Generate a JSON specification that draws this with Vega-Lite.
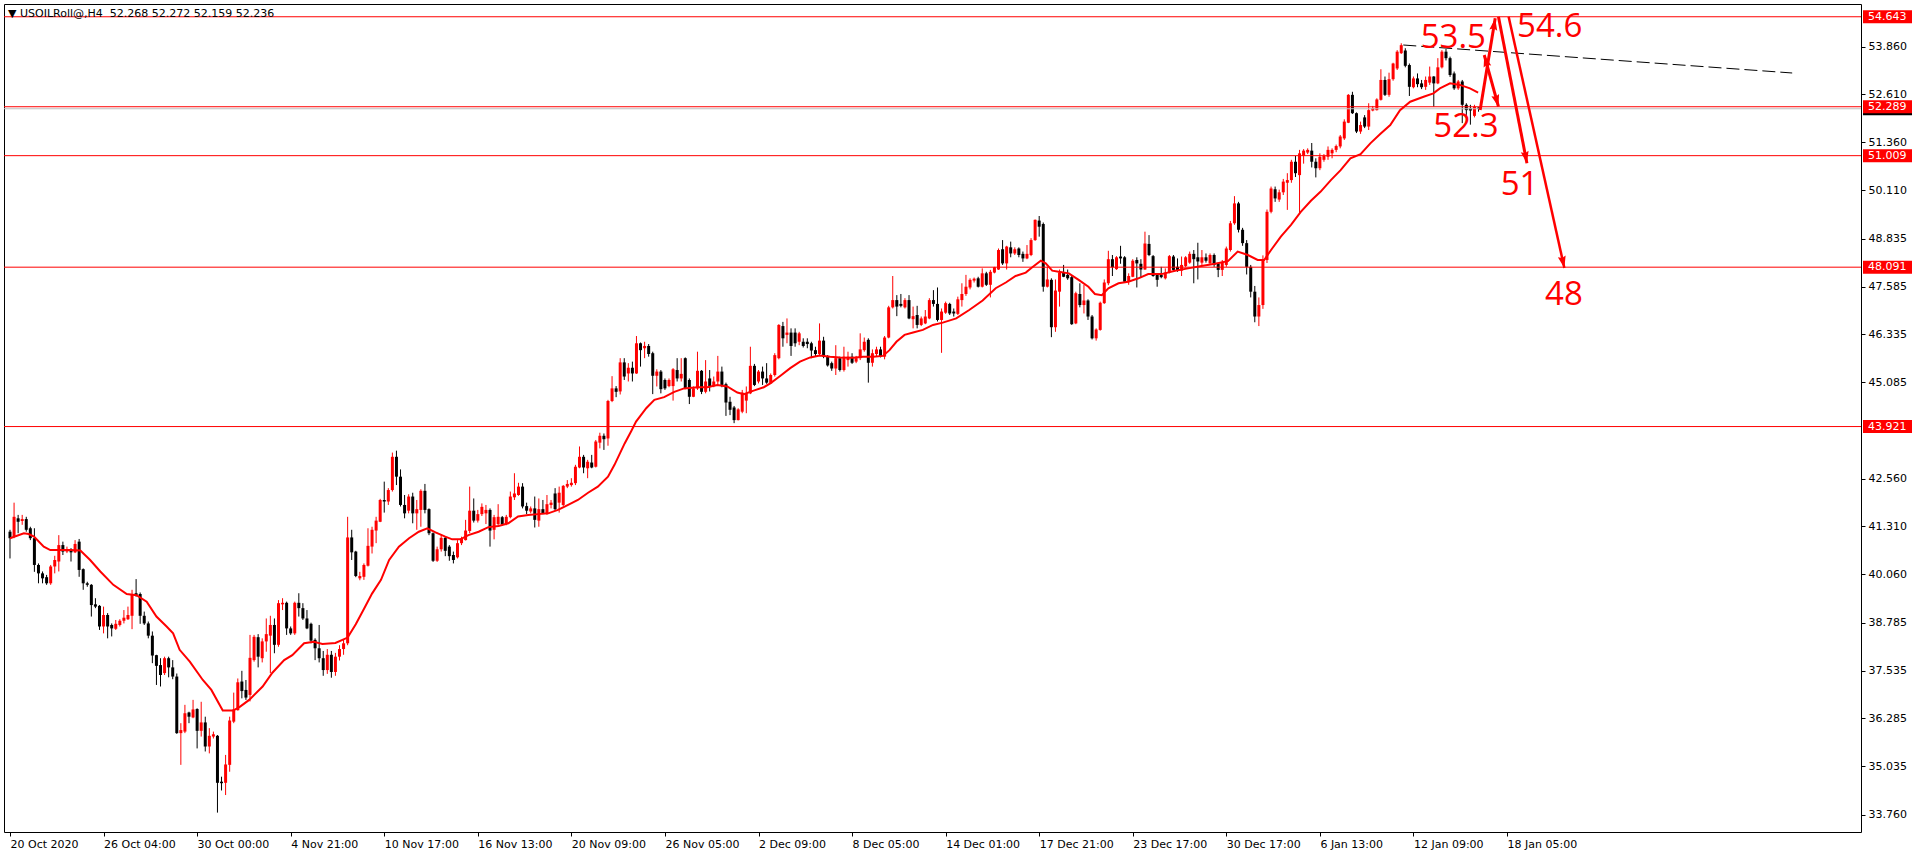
{
"$schema": "https://vega.github.io/schema/vega-lite/v6.json",
"width": 1857,
"height": 828,
"autosize": {"type": "none"},
"padding": {"left": 4, "top": 4, "right": 59, "bottom": 26},
"background": "#ffffff",
"config": {"view": {"stroke": "#000000", "strokeWidth": 1}},
"title": {"text": "▼ USOILRoll@,H4\u00a0\u00a052.268 52.272 52.159 52.236", "anchor": "start", "frame": "group", "orient": "top", "offset": -21, "baseline": "middle", "dx": 4, "font": "DejaVu Sans", "fontSize": 11, "fontWeight": "normal", "color": "#000000"},
"data": {"values": "i,o,h,l,c\n0,41.17,41.22,40.47,41.00\n1,41.04,41.93,41.00,41.56\n2,41.52,41.61,41.13,41.43\n3,41.45,41.61,41.35,41.50\n4,41.50,41.56,41.17,41.22\n5,41.26,41.30,40.95,41.00\n6,41.00,41.26,40.12,40.30\n7,40.30,40.34,39.82,40.08\n8,40.08,40.13,39.82,39.95\n9,39.98,40.04,39.78,39.82\n10,39.82,40.30,39.78,40.26\n11,40.26,40.54,40.08,40.43\n12,40.39,41.08,40.13,40.82\n13,40.82,40.91,40.56,40.65\n14,40.65,40.78,40.61,40.70\n15,40.70,40.74,40.39,40.63\n16,40.63,40.95,40.61,40.85\n17,40.91,40.98,39.99,40.17\n18,40.19,40.21,39.65,39.82\n19,39.82,39.86,39.73,39.78\n20,39.78,39.80,38.95,39.25\n21,39.27,39.43,39.17,39.21\n22,39.23,39.25,38.60,38.69\n23,38.69,39.21,38.51,38.99\n24,38.99,39.04,38.38,38.69\n25,38.73,38.77,38.43,38.64\n26,38.63,38.86,38.60,38.76\n27,38.73,38.88,38.69,38.84\n28,38.84,39.12,38.77,38.92\n29,38.88,39.21,38.86,38.99\n30,38.97,39.65,38.62,39.54\n31,39.56,39.93,39.47,39.51\n32,39.54,39.58,38.76,38.97\n33,38.97,39.08,38.73,38.77\n34,38.77,38.82,38.38,38.45\n35,38.45,38.56,37.73,37.93\n36,37.94,37.95,37.16,37.66\n37,37.68,37.86,37.12,37.42\n38,37.47,37.90,37.42,37.86\n39,37.86,37.90,37.36,37.62\n40,37.62,37.81,37.31,37.38\n41,37.38,37.46,35.88,35.90\n42,35.90,36.16,35.07,35.98\n43,35.94,36.64,35.90,36.42\n44,36.44,36.46,36.16,36.33\n45,36.31,36.77,36.29,36.52\n46,36.53,36.55,35.50,35.96\n47,35.96,36.72,35.81,36.18\n48,36.18,36.33,35.42,35.55\n49,35.55,36.03,35.37,35.83\n50,35.81,35.94,35.76,35.87\n51,35.83,35.85,33.82,34.60\n52,34.63,34.76,34.40,34.59\n53,34.60,35.33,34.28,35.08\n54,35.07,36.33,34.89,36.23\n55,36.20,36.96,36.16,36.52\n56,36.50,37.33,36.49,37.23\n57,37.25,37.53,36.81,37.00\n58,37.03,37.29,36.77,36.83\n59,36.90,38.47,36.73,37.87\n60,37.81,38.47,37.77,38.42\n61,38.41,38.49,37.62,37.90\n62,37.86,38.38,37.75,38.30\n63,38.30,38.90,38.03,38.49\n64,38.45,38.97,37.47,38.73\n65,38.73,38.90,37.99,38.21\n66,38.21,39.38,38.16,39.30\n67,39.27,39.43,39.12,39.31\n68,39.31,39.34,38.47,38.64\n69,38.64,38.69,38.47,38.51\n70,38.51,39.34,38.47,39.31\n71,39.31,39.56,38.95,39.17\n72,39.17,39.30,38.86,38.90\n73,38.90,39.12,38.62,38.64\n74,38.76,38.79,38.25,38.32\n75,38.34,38.38,37.81,38.12\n76,38.12,38.73,37.75,37.86\n77,37.86,38.05,37.40,37.55\n78,37.55,38.10,37.45,37.95\n79,37.95,38.05,37.35,37.50\n80,37.50,38.00,37.40,37.90\n81,37.90,38.20,37.80,38.10\n82,38.10,38.35,37.95,38.25\n83,38.25,41.56,38.20,41.02\n84,41.02,41.22,40.43,40.63\n85,40.65,40.67,39.98,40.01\n86,39.95,40.12,39.90,40.01\n87,39.99,40.34,39.91,40.30\n88,40.28,41.26,40.26,40.80\n89,40.78,41.30,40.60,41.22\n90,41.20,41.56,40.87,41.46\n91,41.43,42.03,41.42,42.00\n92,42.00,42.48,41.67,41.96\n93,41.96,42.31,41.87,42.26\n94,42.26,43.24,42.22,43.13\n95,43.13,43.29,42.39,42.61\n96,42.61,42.80,41.83,41.87\n97,41.87,42.13,41.52,41.65\n98,41.72,42.15,41.65,42.09\n99,42.09,42.19,41.39,41.65\n100,41.65,42.00,41.22,41.76\n101,41.74,42.28,41.30,42.24\n102,42.24,42.42,41.65,41.74\n103,41.76,41.78,41.08,41.13\n104,41.13,41.15,40.38,40.41\n105,40.41,40.78,40.38,40.71\n106,40.71,41.08,40.65,41.01\n107,41.01,41.04,40.53,40.67\n108,40.78,40.82,40.41,40.53\n109,40.56,40.65,40.34,40.43\n110,40.50,40.95,40.47,40.87\n111,40.87,41.04,40.82,40.99\n112,40.95,41.48,40.94,41.20\n113,41.19,42.35,41.13,41.72\n114,41.72,42.04,41.41,41.46\n115,41.46,41.74,41.41,41.63\n116,41.63,41.91,41.58,41.82\n117,41.65,41.87,41.37,41.74\n118,41.74,41.78,40.78,41.20\n119,41.22,41.61,40.97,41.55\n120,41.37,41.89,41.30,41.56\n121,41.55,41.58,41.32,41.37\n122,41.37,41.61,41.34,41.56\n123,41.55,42.22,41.52,42.09\n124,42.07,42.70,42.00,42.17\n125,42.13,42.45,42.11,42.35\n126,42.35,42.44,41.78,41.83\n127,41.84,41.93,41.63,41.72\n128,41.70,41.83,41.65,41.78\n129,41.78,42.09,41.28,41.48\n130,41.46,42.04,41.30,41.76\n131,41.76,42.00,41.63,41.65\n132,41.65,42.13,41.61,41.89\n133,41.87,42.00,41.78,41.93\n134,42.17,42.31,41.72,41.76\n135,41.93,42.35,41.67,42.19\n136,41.87,42.39,41.84,42.37\n137,42.35,42.52,42.31,42.42\n138,42.39,42.57,42.35,42.45\n139,42.44,42.92,42.39,42.87\n140,42.85,43.40,42.83,43.13\n141,43.13,43.18,42.70,42.85\n142,42.83,43.05,42.57,43.00\n143,42.98,43.18,42.83,42.85\n144,42.87,43.57,42.85,43.53\n145,43.50,43.76,43.35,43.68\n146,43.68,43.74,43.31,43.59\n147,43.61,44.62,43.42,44.59\n148,44.59,45.24,44.56,44.92\n149,44.92,44.98,44.69,44.83\n150,44.84,45.71,44.76,45.60\n151,45.60,45.71,45.14,45.23\n152,45.31,45.58,45.10,45.46\n153,45.46,45.62,45.10,45.31\n154,45.31,46.29,45.30,46.10\n155,46.10,46.12,45.49,45.92\n156,45.97,46.14,45.71,46.03\n157,46.03,46.08,45.75,45.82\n158,45.84,45.88,44.77,45.25\n159,45.25,45.42,44.97,45.36\n160,45.36,45.40,44.79,44.90\n161,45.14,45.18,44.88,44.92\n162,44.98,45.18,44.95,45.14\n163,44.98,45.45,44.60,45.42\n164,45.40,45.71,45.10,45.18\n165,45.18,45.71,45.10,45.30\n166,45.71,45.73,44.90,44.92\n167,45.14,45.18,44.51,44.70\n168,44.70,44.97,44.69,44.92\n169,44.92,45.88,44.88,45.38\n170,45.38,45.40,44.77,44.83\n171,44.83,45.66,44.79,45.10\n172,45.18,45.40,44.84,44.98\n173,44.98,45.23,44.95,45.10\n174,45.10,45.77,45.01,45.36\n175,45.36,45.49,44.95,45.01\n176,45.03,45.07,44.20,44.55\n177,44.57,44.70,44.22,44.36\n178,44.42,44.46,44.01,44.09\n179,44.09,44.40,44.08,44.37\n180,44.31,44.88,44.27,44.81\n181,44.60,44.97,44.27,44.79\n182,44.79,46.01,44.77,45.51\n183,45.51,45.56,44.98,45.01\n184,45.10,45.40,45.05,45.36\n185,45.36,45.49,45.01,45.18\n186,45.18,45.58,45.04,45.07\n187,45.05,45.31,45.04,45.27\n188,45.27,45.84,45.23,45.79\n189,45.71,46.60,45.68,46.58\n190,46.55,46.66,46.01,46.23\n191,46.32,46.75,46.10,46.38\n192,46.38,46.49,45.77,46.03\n193,46.38,46.49,46.01,46.10\n194,46.14,46.40,46.05,46.36\n195,46.14,46.23,45.99,46.03\n196,46.14,46.23,45.97,46.08\n197,46.10,46.14,45.71,45.91\n198,45.92,46.01,45.75,45.82\n199,45.82,46.62,45.79,46.17\n200,46.17,46.27,45.71,45.75\n201,45.75,45.79,45.49,45.52\n202,45.58,45.62,45.38,45.44\n203,45.44,46.05,45.27,45.71\n204,45.71,45.75,45.36,45.40\n205,45.40,46.01,45.36,45.75\n206,45.66,45.88,45.49,45.75\n207,45.75,45.84,45.56,45.59\n208,45.62,45.77,45.58,45.71\n209,45.71,46.36,45.66,45.94\n210,45.92,46.25,45.88,46.14\n211,46.19,46.23,45.07,45.59\n212,45.59,45.94,45.49,45.84\n213,45.82,46.01,45.75,45.94\n214,45.94,46.01,45.73,45.75\n215,45.75,46.29,45.68,46.25\n216,46.25,47.08,46.23,47.04\n217,47.04,47.86,47.01,47.23\n218,47.23,47.36,46.81,47.06\n219,47.13,47.39,47.04,47.08\n220,47.04,47.28,47.01,47.23\n221,47.23,47.36,46.73,46.75\n222,46.73,47.06,46.49,46.81\n223,46.84,47.08,46.49,46.58\n224,46.58,46.80,46.55,46.75\n225,46.62,46.97,46.60,46.80\n226,46.75,47.28,46.73,47.23\n227,47.23,47.49,47.06,47.13\n228,47.13,47.56,46.67,46.71\n229,46.71,47.01,45.85,46.93\n230,46.90,47.19,46.87,47.15\n231,47.13,47.16,46.84,46.88\n232,46.93,47.01,46.80,46.88\n233,46.87,47.32,46.84,47.25\n234,47.23,47.67,47.06,47.39\n235,47.39,47.89,47.34,47.58\n236,47.56,47.80,47.51,47.76\n237,47.74,47.82,47.69,47.79\n238,47.80,47.84,47.56,47.58\n239,47.58,48.06,47.56,47.93\n240,47.93,47.97,47.60,47.63\n241,47.63,48.02,47.30,47.97\n242,47.95,48.10,47.93,48.09\n243,48.03,48.58,48.02,48.54\n244,48.56,48.80,48.15,48.19\n245,48.19,48.65,48.03,48.63\n246,48.61,48.76,48.35,48.45\n247,48.45,48.61,48.41,48.56\n248,48.58,48.61,48.35,48.41\n249,48.44,48.50,48.23,48.32\n250,48.32,48.67,48.30,48.44\n251,48.41,48.85,48.38,48.80\n252,48.80,49.34,48.78,49.33\n253,49.31,49.43,48.89,49.15\n254,49.22,49.26,47.45,47.58\n255,47.58,48.10,47.56,47.77\n256,47.76,47.80,46.26,46.52\n257,46.52,47.77,46.40,47.48\n258,47.45,48.03,47.06,47.95\n259,47.95,48.15,47.83,47.84\n260,47.89,48.03,47.76,47.80\n261,47.83,47.86,46.58,46.60\n262,46.62,47.45,46.60,47.41\n263,47.39,47.67,47.04,47.10\n264,47.10,47.63,46.88,47.22\n265,47.22,47.25,46.71,46.80\n266,46.80,46.84,46.20,46.23\n267,46.23,46.49,46.17,46.46\n268,46.45,47.19,46.43,47.16\n269,47.15,47.77,47.13,47.69\n270,47.67,48.52,47.62,48.30\n271,48.30,48.41,47.86,48.09\n272,48.04,48.38,48.02,48.35\n273,48.37,48.65,48.18,48.32\n274,48.35,48.38,47.69,47.71\n275,47.71,47.93,47.63,47.86\n276,47.84,48.30,47.83,48.26\n277,48.28,48.35,47.56,48.19\n278,48.18,48.30,47.83,48.03\n279,48.03,49.02,48.02,48.71\n280,48.70,48.93,48.38,48.41\n281,48.38,48.41,47.84,47.86\n282,47.89,47.93,47.58,47.76\n283,47.89,48.10,47.80,47.83\n284,47.80,48.06,47.77,47.95\n285,47.95,48.41,47.93,48.38\n286,48.37,48.41,48.00,48.02\n287,48.10,48.32,47.97,48.00\n288,48.00,48.37,47.86,48.15\n289,48.12,48.38,48.09,48.35\n290,48.21,48.50,48.18,48.44\n291,48.44,48.54,47.67,48.30\n292,48.35,48.73,47.77,48.24\n293,48.21,48.54,48.15,48.35\n294,48.35,48.45,48.21,48.26\n295,48.19,48.45,48.18,48.41\n296,48.41,48.45,48.10,48.15\n297,48.19,48.21,47.83,48.02\n298,48.02,48.28,47.86,48.23\n299,48.15,48.63,48.10,48.58\n300,48.54,49.30,48.50,49.24\n301,49.24,49.95,49.20,49.76\n302,49.76,49.80,49.00,49.07\n303,49.07,49.12,48.65,48.72\n304,48.72,48.80,47.90,48.10\n305,48.10,48.15,47.30,47.45\n306,47.45,47.60,46.65,46.80\n307,46.80,47.30,46.55,47.10\n308,47.10,48.40,47.00,48.28\n309,48.28,49.60,48.20,49.54\n310,49.54,50.20,49.50,50.15\n311,50.13,50.20,49.80,49.89\n312,49.86,50.12,49.80,50.05\n313,50.05,50.40,49.98,50.33\n314,50.30,50.55,49.59,50.37\n315,50.37,50.90,50.30,50.85\n316,50.85,51.00,50.45,50.55\n317,50.50,51.16,49.50,51.07\n318,51.00,51.18,50.80,51.14\n319,51.09,51.20,51.05,51.16\n320,51.14,51.34,50.70,50.85\n321,50.85,50.94,50.44,50.68\n322,50.68,51.07,50.63,50.98\n323,50.90,51.05,50.85,51.00\n324,50.98,51.25,50.90,51.16\n325,51.07,51.20,50.94,51.16\n326,51.16,51.30,51.10,51.26\n327,51.25,51.55,51.20,51.51\n328,51.46,51.96,51.42,51.90\n329,51.87,52.62,51.86,52.60\n330,52.60,52.68,52.10,52.12\n331,52.12,52.14,51.60,51.64\n332,51.64,51.90,51.58,51.81\n333,52.01,52.07,51.73,51.77\n334,51.77,52.38,51.68,52.20\n335,52.19,52.31,52.17,52.25\n336,52.20,52.51,52.19,52.48\n337,52.47,53.27,52.45,52.99\n338,52.99,53.08,52.57,52.60\n339,52.60,53.18,52.55,53.01\n340,53.01,53.44,52.97,53.42\n341,53.29,53.77,53.25,53.73\n342,53.69,53.95,53.67,53.90\n343,53.76,53.82,53.32,53.36\n344,53.38,53.42,52.57,52.81\n345,52.80,53.08,52.77,53.03\n346,53.03,53.16,52.80,52.88\n347,52.90,52.99,52.75,52.80\n348,52.81,53.08,52.73,52.99\n349,52.92,53.34,52.86,53.08\n350,53.08,53.09,52.29,52.90\n351,52.90,53.56,52.88,53.32\n352,53.32,53.77,53.29,53.73\n353,53.73,53.80,53.50,53.56\n354,53.56,53.60,53.07,53.12\n355,53.16,53.21,52.73,52.77\n356,52.77,52.99,52.73,52.95\n357,52.95,52.99,51.86,52.34\n358,52.34,52.38,52.00,52.20\n359,52.25,52.34,51.82,52.19\n360,52.05,52.34,52.01,52.29\n361,52.268,52.272,52.159,52.236", "format": {"type": "csv", "parse": {"i": "number", "o": "number", "h": "number", "l": "number", "c": "number"}}},
"layer": [
{
"mark": {"type": "rule", "strokeWidth": 1},
"encoding": {
"x": {"field": "i", "type": "quantitative", "title": null, "scale": {"domain": [-0.2445, 453.79], "nice": false, "zero": false},
"axis": {"values": [0,23,46,69,92,115,138,161,184,207,230,253,276,299,322,345,368], "labelExpr": "['20 Oct 2020','26 Oct 04:00','30 Oct 00:00','4 Nov 21:00','10 Nov 17:00','16 Nov 13:00','20 Nov 09:00','26 Nov 05:00','2 Dec 09:00','8 Dec 05:00','14 Dec 01:00','17 Dec 21:00','23 Dec 17:00','30 Dec 17:00','6 Jan 13:00','12 Jan 09:00','18 Jan 05:00'][round(datum.value/23)]", "orient": "bottom", "domain": false, "grid": false, "ticks": true, "tickSize": 4, "tickColor": "#000000", "tickWidth": 1, "labelAlign": "left", "labelBaseline": "top", "labelPadding": 2, "labelFont": "DejaVu Sans", "labelFontSize": 11, "labelColor": "#000000", "labelOverlap": false, "labelFlush": false, "title": null}},
"y": {"field": "l", "type": "quantitative", "title": null, "scale": {"domain": [33.313, 54.977], "nice": false, "zero": false},
"axis": {"orient": "right", "values": [33.760,35.035,36.285,37.535,38.785,40.060,41.310,42.560,45.085,46.335,47.585,48.835,50.110,51.360,52.610,53.860], "format": ".3f", "domain": false, "grid": false, "ticks": true, "tickSize": 4, "tickColor": "#000000", "labelPadding": 3, "labelFont": "DejaVu Sans", "labelFontSize": 11, "labelColor": "#000000", "labelBaseline": "middle", "labelAlign": "left", "labelOverlap": false, "labelFlush": false, "title": null}},
"y2": {"field": "h"},
"color": {"condition": {"test": "datum.c >= datum.o", "value": "#ff0000"}, "value": "#000000"}
}
},
{
"mark": {"type": "bar", "width": 3},
"encoding": {
"x": {"field": "i", "type": "quantitative", "title": null},
"y": {"field": "o", "type": "quantitative", "title": null},
"y2": {"field": "c"},
"color": {"condition": {"test": "datum.c >= datum.o", "value": "#ff0000"}, "value": "#000000"}
}
},
{
"data": {"values": [{"v": 54.643}, {"v": 52.289}, {"v": 51.009}, {"v": 48.091}, {"v": 43.921}]},
"mark": {"type": "rule", "color": "#ff0000", "strokeWidth": 1},
"encoding": {"y": {"field": "v", "type": "quantitative", "title": null}}
},
{
"data": {"values": [{"v": 52.236}]},
"mark": {"type": "rule", "color": "#c0c0c0", "strokeWidth": 1},
"encoding": {"y": {"field": "v", "type": "quantitative", "title": null}}
},
{
"data": {"values": "i,v\n0,41.00\n3.4,41.13\n4.6,41.11\n5.9,41.04\n8.3,40.78\n9.9,40.69\n14.8,40.69\n17.3,40.68\n19.7,40.43\n22.2,40.13\n25.4,39.78\n28.7,39.54\n31.1,39.51\n33.6,39.34\n36.0,38.95\n38.5,38.69\n40.1,38.51\n41.7,38.08\n44.2,37.77\n47.4,37.29\n49.5,37.03\n52.3,36.49\n54.8,36.49\n56.4,36.58\n58.8,36.77\n62.1,37.12\n64.5,37.48\n67.4,37.81\n69.4,37.94\n72.3,38.25\n74.7,38.29\n76.8,38.23\n80,38.26\n83,38.40\n85,38.75\n87,39.15\n89,39.55\n91.2,39.91\n93.2,40.43\n95.6,40.78\n98.1,41.00\n100.5,41.17\n102.6,41.26\n104.6,41.15\n107.0,41.04\n108.7,40.97\n110.7,40.97\n112.7,41.08\n115.2,41.17\n117.6,41.29\n120.1,41.32\n122.5,41.39\n124.9,41.57\n127.4,41.61\n129.8,41.63\n132.3,41.65\n134.7,41.74\n137.2,41.87\n139.6,42.00\n142.1,42.19\n144.5,42.35\n147.0,42.61\n148.6,42.92\n151.1,43.48\n152.7,43.80\n153.9,44.05\n156.4,44.40\n158.4,44.62\n160.8,44.69\n163.3,44.83\n165.7,44.92\n169.0,44.95\n171.4,44.95\n173.9,45.01\n176.3,44.97\n178.8,44.81\n180.4,44.77\n182.8,44.86\n185.3,44.95\n186.9,45.05\n189.4,45.25\n191.8,45.45\n194.2,45.62\n196.7,45.73\n199.1,45.78\n201.6,45.75\n204.0,45.73\n207.3,45.72\n209.7,45.75\n212.2,45.75\n214.6,45.77\n216.2,45.92\n217.9,46.14\n219.9,46.32\n222.0,46.38\n224.4,46.45\n226.9,46.58\n229.3,46.64\n232.6,46.75\n235.8,46.97\n239.1,47.22\n242.3,47.54\n244.8,47.69\n247.2,47.86\n249.7,47.95\n251.3,48.09\n253.4,48.26\n254.6,48.19\n256.2,48.00\n257.8,47.97\n260.3,47.93\n262.7,47.76\n265.1,47.58\n266.7,47.39\n268.4,47.36\n270.0,47.54\n272.5,47.67\n274.9,47.71\n277.4,47.80\n279.8,47.91\n283.1,47.91\n286.4,48.00\n289.6,48.06\n292.9,48.12\n296.2,48.18\n299.4,48.25\n301.8,48.50\n304.3,48.41\n306.7,48.28\n308.3,48.28\n310.0,48.54\n312.4,48.89\n314.9,49.20\n317.3,49.54\n319.8,49.83\n322.2,50.07\n324.7,50.37\n327.1,50.63\n329.5,50.94\n332.0,51.05\n334.4,51.33\n336.9,51.58\n339.3,51.81\n341.7,52.20\n344.2,52.42\n347.5,52.55\n349.9,52.64\n351.5,52.77\n354.0,52.90\n356.4,52.86\n358.9,52.77\n360.9,52.66", "format": {"type": "csv", "parse": {"i": "number", "v": "number"}}},
"mark": {"type": "line", "color": "#ff0000", "strokeWidth": 2, "interpolate": "linear"},
"encoding": {
"x": {"field": "i", "type": "quantitative", "title": null},
"y": {"field": "v", "type": "quantitative", "title": null}
}
},
{
"data": {"values": [{"i": 342.5, "p": 53.904, "i2": 438.1, "p2": 53.172}]},
"mark": {"type": "rule", "color": "#000000", "strokeWidth": 1, "strokeDash": [13, 5]},
"encoding": {
"x": {"field": "i", "type": "quantitative", "title": null},
"y": {"field": "p", "type": "quantitative", "title": null},
"x2": {"field": "i2"}, "y2": {"field": "p2"}
}
},
{
"data": {"values": [
{"name": "a1", "i": 361.4, "p": 52.204, "i2": 365.1, "p2": 54.603},
{"name": "a2", "i": 362.4, "p": 53.643, "i2": 365.9, "p2": 52.290},
{"name": "a3", "i": 365.9, "p": 54.645, "i2": 372.9, "p2": 50.809}
]},
"mark": {"type": "rule", "color": "#ff0000", "strokeWidth": 3, "strokeCap": "butt"},
"encoding": {
"x": {"field": "i", "type": "quantitative", "title": null},
"y": {"field": "p", "type": "quantitative", "title": null},
"x2": {"field": "i2"}, "y2": {"field": "p2"}
}
},
{
"data": {"values": [{"name": "a4", "i": 368.4, "p": 54.645, "i2": 382.1, "p2": 48.070}]},
"mark": {"type": "rule", "color": "#ff0000", "strokeWidth": 2.5, "strokeCap": "butt"},
"encoding": {
"x": {"field": "i", "type": "quantitative", "title": null},
"y": {"field": "p", "type": "quantitative", "title": null},
"x2": {"field": "i2"}, "y2": {"field": "p2"}
}
},
{
"data": {"values": [{"i": 365.1, "p": 54.603}]},
"mark": {"type": "point", "shape": "M0,0L0.33,1L0,0.85L-0.33,1Z", "size": 576, "angle": 9.3, "filled": true, "color": "#ff0000", "opacity": 1},
"encoding": {"x": {"field": "i", "type": "quantitative", "title": null}, "y": {"field": "p", "type": "quantitative", "title": null}}
},
{
"data": {"values": [{"i": 362.4, "p": 53.643}]},
"mark": {"type": "point", "shape": "M0,0L0.33,1L0,0.85L-0.33,1Z", "size": 576, "angle": -15.6, "filled": true, "color": "#ff0000", "opacity": 1},
"encoding": {"x": {"field": "i", "type": "quantitative", "title": null}, "y": {"field": "p", "type": "quantitative", "title": null}}
},
{
"data": {"values": [{"i": 365.9, "p": 52.290}]},
"mark": {"type": "point", "shape": "M0,0L0.33,1L0,0.85L-0.33,1Z", "size": 576, "angle": 164.4, "filled": true, "color": "#ff0000", "opacity": 1},
"encoding": {"x": {"field": "i", "type": "quantitative", "title": null}, "y": {"field": "p", "type": "quantitative", "title": null}}
},
{
"data": {"values": [{"i": 372.9, "p": 50.809}]},
"mark": {"type": "point", "shape": "M0,0L0.33,1L0,0.85L-0.33,1Z", "size": 576, "angle": 169.1, "filled": true, "color": "#ff0000", "opacity": 1},
"encoding": {"x": {"field": "i", "type": "quantitative", "title": null}, "y": {"field": "p", "type": "quantitative", "title": null}}
},
{
"data": {"values": [{"i": 382.1, "p": 48.070}]},
"mark": {"type": "point", "shape": "M0,0L0.33,1L0,0.85L-0.33,1Z", "size": 576, "angle": 167.4, "filled": true, "color": "#ff0000", "opacity": 1},
"encoding": {"x": {"field": "i", "type": "quantitative", "title": null}, "y": {"field": "p", "type": "quantitative", "title": null}}
},
{
"data": {"values": [
{"t": "53.5", "i": 354.8, "p": 53.82},
{"t": "54.6", "i": 378.5, "p": 54.11},
{"t": "52.3", "i": 357.9, "p": 51.49},
{"t": "51", "i": 371.1, "p": 49.98},
{"t": "48", "i": 382.0, "p": 47.10}
]},
"mark": {"type": "text", "font": "Open Sans", "fontSize": 33, "color": "#ff0000", "align": "center", "baseline": "alphabetic"},
"encoding": {
"x": {"field": "i", "type": "quantitative", "title": null},
"y": {"field": "p", "type": "quantitative", "title": null},
"text": {"field": "t"}
}
},
{
"data": {"values": [{"v": 52.236}]},
"mark": {"type": "point", "shape": "M-1,-0.2653L1,-0.2653L1,0.2653L-1,0.2653Z", "size": 2401, "filled": true, "color": "#000000", "opacity": 1, "x": "width", "xOffset": 26.5},
"encoding": {"y": {"field": "v", "type": "quantitative", "title": null}}
},
{
"data": {"values": [{"v": 54.643}, {"v": 52.289}, {"v": 51.009}, {"v": 48.091}, {"v": 43.921}]},
"mark": {"type": "point", "shape": "M-1,-0.2653L1,-0.2653L1,0.2653L-1,0.2653Z", "size": 2401, "filled": true, "color": "#ff0000", "opacity": 1, "x": "width", "xOffset": 26.5},
"encoding": {"y": {"field": "v", "type": "quantitative", "title": null}}
},
{
"data": {"values": [{"v": 54.643}, {"v": 52.289}, {"v": 51.009}, {"v": 48.091}, {"v": 43.921}]},
"mark": {"type": "text", "font": "DejaVu Sans", "fontSize": 11, "color": "#ffffff", "align": "left", "baseline": "middle", "x": "width", "xOffset": 7},
"encoding": {
"y": {"field": "v", "type": "quantitative", "title": null},
"text": {"field": "v", "type": "quantitative", "format": ".3f"}
}
}
]
}
